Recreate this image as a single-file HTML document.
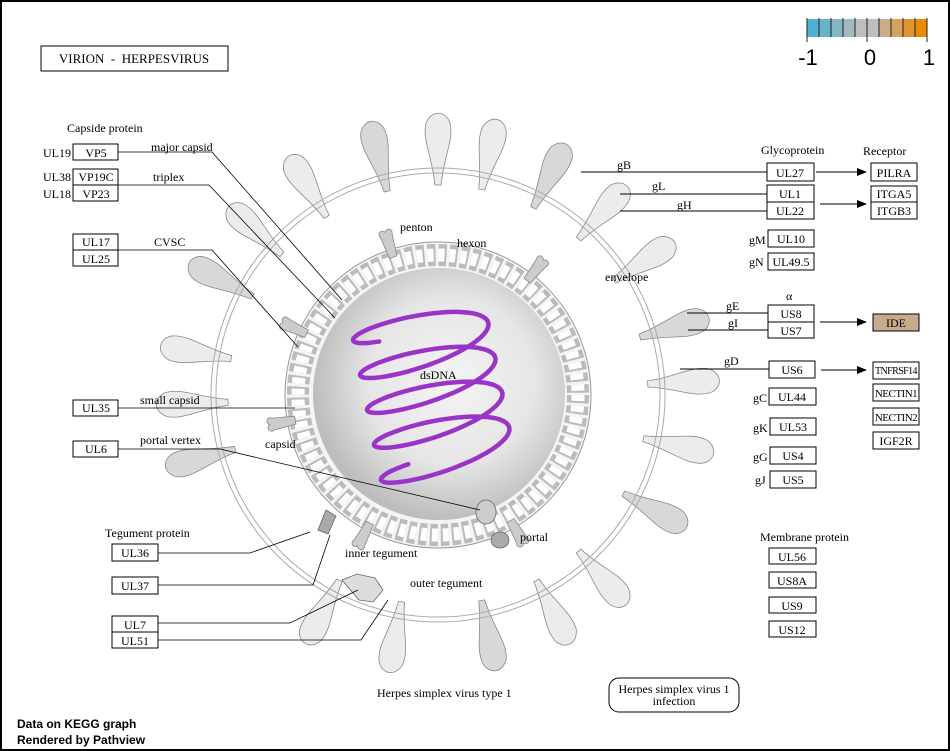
<!DOCTYPE html>
<html><head><meta charset="utf-8"><style>
body{margin:0;background:#fff}
svg{display:block}
text{font-family:"Liberation Serif",serif;font-size:12px;fill:#000}
.b{fill:#fff;stroke:#000;stroke-width:1}
.bt{font-size:12px;text-anchor:middle}
.l{stroke:#000;stroke-width:1;fill:none}
.t{stroke:#000;stroke-width:0.8;fill:none}
</style></head><body>
<svg id="s" width="950" height="751" viewBox="0 0 950 751" xmlns="http://www.w3.org/2000/svg">
<defs>
<radialGradient id="g" cx="0.55" cy="0.45" r="0.55">
<stop offset="0" stop-color="#f4f4f4"/><stop offset="0.6" stop-color="#e6e6e6"/><stop offset="1" stop-color="#bdbdbd"/>
</radialGradient>
<marker id="a" markerWidth="10" markerHeight="8" refX="9" refY="4" orient="auto" markerUnits="userSpaceOnUse"><path d="M0,0L10,4L0,8z" fill="#000"/></marker>
</defs>
<rect x="1" y="1" width="948" height="749" fill="#fff" stroke="#000" stroke-width="2"/>
<!-- legend -->
<g>
<rect x="807" y="19" width="12" height="18" fill="#4db1cf"/><rect x="819" y="19" width="12" height="18" fill="#66b2c8"/>
<rect x="831" y="19" width="12" height="18" fill="#84b7c4"/><rect x="843" y="19" width="12" height="18" fill="#a3b9bf"/>
<rect x="855" y="19" width="12" height="18" fill="#bebebe"/><rect x="867" y="19" width="12" height="18" fill="#bebebe"/>
<rect x="879" y="19" width="12" height="18" fill="#c9ad8b"/><rect x="891" y="19" width="12" height="18" fill="#d4a160"/>
<rect x="903" y="19" width="12" height="18" fill="#de9531"/><rect x="915" y="19" width="12" height="18" fill="#e98a00"/>
<g stroke="#222" stroke-width="1"><line x1="807" y1="18" x2="807" y2="42"/><line x1="819" y1="18" x2="819" y2="37"/><line x1="831" y1="18" x2="831" y2="37"/><line x1="843" y1="18" x2="843" y2="37"/><line x1="855" y1="18" x2="855" y2="37"/><line x1="867" y1="18" x2="867" y2="42"/><line x1="879" y1="18" x2="879" y2="37"/><line x1="891" y1="18" x2="891" y2="37"/><line x1="903" y1="18" x2="903" y2="37"/><line x1="915" y1="18" x2="915" y2="37"/><line x1="927" y1="18" x2="927" y2="42"/></g>
<text x="808" y="65" style="font-family:'Liberation Sans',sans-serif;font-size:22px" text-anchor="middle">-1</text>
<text x="870" y="65" style="font-family:'Liberation Sans',sans-serif;font-size:22px" text-anchor="middle">0</text>
<text x="929" y="65" style="font-family:'Liberation Sans',sans-serif;font-size:22px" text-anchor="middle">1</text>
</g>
<rect x="41" y="46" width="187" height="25" class="b" stroke-width="1.5"/>
<text x="134" y="63" text-anchor="middle" style="font-size:13px;white-space:pre" xml:space="preserve">VIRION  -  HERPESVIRUS</text>

<!-- virion -->
<g id="spk"></g>
<circle cx="438" cy="395" r="222" fill="none" stroke="#aaa" stroke-width="1"/>
<circle cx="438" cy="395" r="227" fill="none" stroke="#aaa" stroke-width="1"/>
<circle cx="438" cy="395" r="153" fill="#f4f4f4" stroke="#999" stroke-width="1"/>
<circle cx="438" cy="395" r="140" fill="none" stroke="#bbb" stroke-width="22" stroke-dasharray="8 3"/>
<circle cx="438" cy="395" r="140" fill="none" stroke="#fff" stroke-width="13" stroke-dasharray="6 5"/>
<circle cx="439" cy="394" r="126" fill="url(#g)"/>
<g id="pent"></g>
<path id="dna" fill="none" stroke="#9a34c8" stroke-width="4.5" stroke-linecap="round"/>
<g fill="#999" stroke="#666" stroke-width="0.8">
<ellipse cx="486" cy="512" rx="10" ry="12" fill="#ccc"/><ellipse cx="500" cy="540" rx="9" ry="8" fill="#aaa"/>
<path d="M318,530 l8,-20 l10,6 l-8,18z" fill="#aaa"/>
<path d="M342,580 l15,-6 l18,4 l8,12 l-10,12 l-14,-2 z" fill="#ddd"/>
</g>

<text x="400" y="231">penton</text><text x="457" y="247">hexon</text>
<text x="605" y="281">envelope</text><text x="420" y="379">dsDNA</text>
<text x="265" y="448">capsid</text><text x="520" y="541">portal</text>
<text x="345" y="557">inner tegument</text><text x="410" y="587">outer tegument</text>
<text x="377" y="697">Herpes simplex virus type 1</text>
<rect x="609" y="678" width="130" height="34" rx="10" class="b"/>
<text x="674" y="693" text-anchor="middle">Herpes simplex virus 1</text>
<text x="674" y="705" text-anchor="middle">infection</text>

<!-- left -->
<text x="67" y="132">Capside protein</text>
<text x="43" y="157">UL19</text><text x="43" y="181">UL38</text><text x="43" y="198">UL18</text>
<rect x="73" y="144" width="45" height="16" class="b"/><text x="96" y="157" class="bt">VP5</text>
<rect x="73" y="169" width="45" height="16" class="b"/><text x="96" y="181" class="bt">VP19C</text>
<rect x="73" y="185" width="45" height="16" class="b"/><text x="96" y="198" class="bt">VP23</text>
<rect x="73" y="234" width="45" height="16" class="b"/><text x="96" y="246" class="bt">UL17</text>
<rect x="73" y="250" width="45" height="16" class="b"/><text x="96" y="263" class="bt">UL25</text>
<rect x="73" y="400" width="45" height="16" class="b"/><text x="96" y="412" class="bt">UL35</text>
<rect x="73" y="441" width="45" height="16" class="b"/><text x="96" y="453" class="bt">UL6</text>
<text x="151" y="151">major capsid</text><text x="153" y="181">triplex</text><text x="154" y="246">CVSC</text>
<text x="140" y="404">small capsid</text><text x="140" y="444">portal vertex</text>
<path class="t" d="M118,152H212L342,300"/>
<path class="t" d="M118,185H209L335,318"/>
<path class="t" d="M118,250H212L298,347"/>
<path class="t" d="M118,408H295"/>
<path class="t" d="M118,449H220L480,510"/>
<text x="105" y="537">Tegument protein</text>
<rect x="112" y="544" width="46" height="17" class="b"/><text x="135" y="557" class="bt">UL36</text>
<rect x="112" y="577" width="46" height="17" class="b"/><text x="135" y="590" class="bt">UL37</text>
<rect x="112" y="616" width="46" height="16" class="b"/><text x="135" y="629" class="bt">UL7</text>
<rect x="112" y="632" width="46" height="16" class="b"/><text x="135" y="645" class="bt">UL51</text>
<path class="t" d="M158,553H250L310,532"/>
<path class="t" d="M158,585H313L330,535"/>
<path class="t" d="M158,623H290L358,590"/>
<path class="t" d="M158,640H361L388,600"/>

<!-- right -->
<text x="761" y="154">Glycoprotein</text><text x="863" y="155">Receptor</text>
<rect x="767" y="163" width="47" height="18" class="b"/><text x="790" y="177" class="bt">UL27</text>
<rect x="767" y="185" width="47" height="17" class="b"/><text x="790" y="198" class="bt">UL1</text>
<rect x="767" y="202" width="47" height="17" class="b"/><text x="790" y="215" class="bt">UL22</text>
<rect x="768" y="230" width="46" height="17" class="b"/><text x="791" y="243" class="bt">UL10</text>
<rect x="768" y="253" width="46" height="17" class="b"/><text x="791" y="266" class="bt">UL49.5</text>
<rect x="768" y="305" width="46" height="17" class="b"/><text x="791" y="318" class="bt">US8</text>
<rect x="768" y="322" width="46" height="16" class="b"/><text x="791" y="335" class="bt">US7</text>
<rect x="769" y="361" width="46" height="17" class="b"/><text x="792" y="374" class="bt">US6</text>
<rect x="769" y="388" width="47" height="17" class="b"/><text x="792" y="401" class="bt">UL44</text>
<rect x="770" y="418" width="46" height="17" class="b"/><text x="793" y="431" class="bt">UL53</text>
<rect x="770" y="447" width="46" height="17" class="b"/><text x="793" y="460" class="bt">US4</text>
<rect x="770" y="471" width="46" height="17" class="b"/><text x="793" y="484" class="bt">US5</text>
<rect x="871" y="163" width="46" height="18" class="b"/><text x="894" y="177" class="bt">PILRA</text>
<rect x="871" y="186" width="46" height="16" class="b"/><text x="894" y="198" class="bt">ITGA5</text>
<rect x="871" y="202" width="46" height="17" class="b"/><text x="894" y="215" class="bt">ITGB3</text>
<rect x="873" y="314" width="46" height="17" fill="#c8ab88" stroke="#000"/><text x="896" y="327" class="bt">IDE</text>
<rect x="873" y="362" width="46" height="17" class="b"/><text x="896" y="374" class="bt" style="font-size:10px;letter-spacing:-0.6px">TNFRSF14</text>
<rect x="873" y="384" width="46" height="17" class="b"/><text x="896" y="397" class="bt" style="font-size:11px;letter-spacing:-0.5px">NECTIN1</text>
<rect x="873" y="408" width="46" height="17" class="b"/><text x="896" y="421" class="bt" style="font-size:11px;letter-spacing:-0.5px">NECTIN2</text>
<rect x="873" y="432" width="46" height="17" class="b"/><text x="896" y="445" class="bt">IGF2R</text>
<text x="760" y="541">Membrane protein</text>
<rect x="769" y="548" width="47" height="16" class="b"/><text x="792" y="561" class="bt">UL56</text>
<rect x="769" y="572" width="47" height="16" class="b"/><text x="792" y="585" class="bt">US8A</text>
<rect x="769" y="597" width="47" height="16" class="b"/><text x="792" y="610" class="bt">US9</text>
<rect x="769" y="621" width="47" height="16" class="b"/><text x="792" y="634" class="bt">US12</text>
<text x="617" y="169">gB</text><text x="652" y="190">gL</text><text x="677" y="209">gH</text>
<text x="749" y="244">gM</text><text x="749" y="266">gN</text><text x="786" y="300">α</text>
<text x="726" y="310">gE</text><text x="728" y="327">gI</text><text x="724" y="365">gD</text>
<text x="753" y="402">gC</text><text x="753" y="432">gK</text><text x="753" y="461">gG</text><text x="755" y="484">gJ</text>
<path class="l" d="M581,172H767M620,194H767M620,211H767M687,313H768M688,330H768M680,369H769"/>
<line class="l" x1="816" y1="172" x2="866" y2="172" marker-end="url(#a)"/>
<line class="l" x1="820" y1="204" x2="866" y2="204" marker-end="url(#a)"/>
<line class="l" x1="820" y1="322" x2="866" y2="322" marker-end="url(#a)"/>
<line class="l" x1="821" y1="370" x2="866" y2="370" marker-end="url(#a)"/>
<text x="17" y="728" style="font-family:'Liberation Sans',sans-serif;font-size:12px;font-weight:bold">Data on KEGG graph</text>
<text x="17" y="744" style="font-family:'Liberation Sans',sans-serif;font-size:12px;font-weight:bold">Rendered by Pathview</text>
</svg>
<script>
(function(){
var ns="http://www.w3.org/2000/svg",cx=438,cy=395;
var d="",n=0;
for(var t=0;t<=8.6*Math.PI;t+=0.1){
 var u=t/(8.6*Math.PI);
 var c=418+30*u;
 var x=c+66*Math.cos(t+2.2);
 var y=318+150*u+17*Math.sin(t+2.2)+(x-c)*(-0.25);
 d+=(n++?"L":"M")+x.toFixed(1)+","+y.toFixed(1);
}
document.getElementById("dna").setAttribute("d",d);
var g=document.getElementById("spk");
var angs=[-152,-138,-122,-104,-90,-78,-63,-48,-33,-16,-3,12,28,48,62,78,100,118,165,178,-170];
angs.forEach(function(a,i){
 var r=a*Math.PI/180;
 var p=document.createElementNS(ns,"path");
 var x0=cx+210*Math.cos(r),y0=cy+210*Math.sin(r);
 p.setAttribute("d","M0,-3 C30,-6 45,-16 62,-12 C76,-6 74,8 62,12 C45,16 30,6 0,3 Z");
 p.setAttribute("transform","translate("+x0+","+y0+") rotate("+a+")");
 p.setAttribute("fill",i%3==0?"#d8d8d8":"#ececec");
 p.setAttribute("stroke","#888");p.setAttribute("stroke-width","0.8");
 g.appendChild(p);
});
var pg=document.getElementById("pent");
[-108,-52,-155,118,170,60].forEach(function(a){
 var r=a*Math.PI/180;
 var p=document.createElementNS(ns,"path");
 p.setAttribute("d","M0,-4 L22,-6 C28,-9 30,-2 26,0 C30,2 28,9 22,6 L0,4Z");
 p.setAttribute("transform","translate("+(cx+145*Math.cos(r))+","+(cy+145*Math.sin(r))+") rotate("+a+")");
 p.setAttribute("fill","#ccc");p.setAttribute("stroke","#888");p.setAttribute("stroke-width","0.8");
 pg.appendChild(p);
});
})();
</script>
</body></html>
